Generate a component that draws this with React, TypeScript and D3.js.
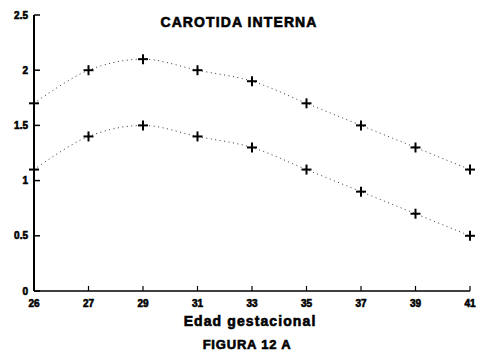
import React from "react";
import * as d3 from "d3";

const weeks = ["26", "27", "29", "31", "33", "35", "37", "39", "41"];
const upperSeries = [1.7, 2.0, 2.1, 2.0, 1.9, 1.7, 1.5, 1.3, 1.1];
const lowerSeries = [1.1, 1.4, 1.5, 1.4, 1.3, 1.1, 0.9, 0.7, 0.5];
const yTicks = [0, 0.5, 1, 1.5, 2, 2.5];
const yTickLabels = ["0", "0.5", "1", "1.5", "2", "2.5"];

const W = 478;
const H = 358;
const FONT = "'Liberation Sans', Arial, sans-serif";

// heavy label style: bold glyphs thickened by a thin outline
const heavy = {
  fontFamily: FONT,
  fontWeight: "bold" as const,
  fill: "#000",
  stroke: "#000",
  strokeWidth: 0.6,
};

export default function App() {
  const x = d3.scalePoint<string>().domain(weeks).range([34, 470]).padding(0);
  const y = d3.scaleLinear().domain([0, 2.5]).range([291, 15]);

  const line = d3
    .line<number>()
    .x((_, i) => x(weeks[i]) as number)
    .y((d) => y(d))
    .curve(d3.curveCatmullRom.alpha(0.5));

  const series = [upperSeries, lowerSeries];

  return (
    <svg
      width={W}
      height={H}
      style={{ position: "absolute", left: 0, top: 0, background: "#fff" }}
    >
      <rect width={W} height={H} fill="#fff" />
      <text x={239} y={27} textAnchor="middle" fontSize={14} letterSpacing={1.1} {...heavy}>
        CAROTIDA INTERNA
      </text>

      {/* axes */}
      <line x1={34} x2={34} y1={y(2.5)} y2={y(0)} stroke="#000" strokeWidth={2} />
      <line x1={34} x2={470} y1={y(0)} y2={y(0)} stroke="#000" strokeWidth={1.5} />

      {yTicks.map((t, i) => (
        <g key={"y" + i}>
          <line x1={34} x2={40} y1={y(t)} y2={y(t)} stroke="#000" strokeWidth={1.5} />
          <text x={28} y={y(t) + 3.5} textAnchor="end" fontSize={10} {...heavy}>
            {yTickLabels[i]}
          </text>
        </g>
      ))}

      {weeks.map((w) => (
        <g key={"x" + w}>
          <line
            x1={x(w)}
            x2={x(w)}
            y1={y(0)}
            y2={y(0) - 5}
            stroke="#000"
            strokeWidth={1.2}
          />
          <text x={x(w)} y={y(0) + 16} textAnchor="middle" fontSize={10} {...heavy}>
            {w}
          </text>
        </g>
      ))}

      {series.map((s, si) => (
        <g key={"s" + si}>
          <path
            d={line(s) || ""}
            fill="none"
            stroke="#333"
            strokeWidth={1}
            strokeDasharray="1,3.5"
          />
          {s.map((v, i) => {
            const cx = x(weeks[i]) as number;
            const cy = y(v);
            return (
              <g key={i}>
                <line x1={cx - 5} x2={cx + 5} y1={cy} y2={cy} stroke="#000" strokeWidth={2} />
                <line x1={cx} x2={cx} y1={cy - 5} y2={cy + 5} stroke="#000" strokeWidth={2} />
              </g>
            );
          })}
        </g>
      ))}

      <text x={250} y={326} textAnchor="middle" fontSize={14} letterSpacing={1.1} {...heavy}>
        Edad gestacional
      </text>
      <text x={247} y={349} textAnchor="middle" fontSize={13} letterSpacing={0.8} {...heavy}>
        FIGURA 12 A
      </text>
    </svg>
  );
}
